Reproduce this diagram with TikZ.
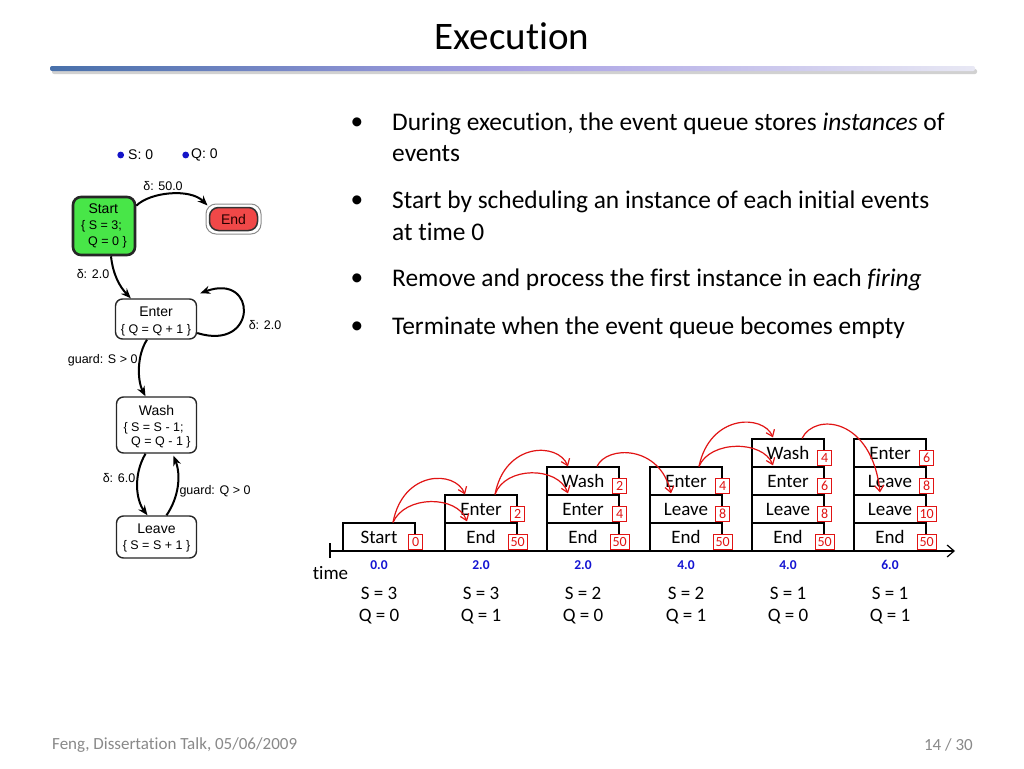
\documentclass[tikz,border=0pt]{standalone}
\usepackage{fontspec}
\setmainfont{Carlito}[Ligatures=NoCommon]
\newfontfamily\arialf{Liberation Sans}
\usetikzlibrary{arrows.meta,calc}
\definecolor{startgreen}{RGB}{72,230,72}
\definecolor{endred}{RGB}{240,72,72}
\definecolor{legblue}{RGB}{20,20,200}
\definecolor{qred}{RGB}{225,20,20}
\definecolor{tblue}{RGB}{20,20,210}
\definecolor{footgray}{RGB}{137,137,137}
\definecolor{barA}{RGB}{72,112,170}
\definecolor{barB}{RGB}{168,160,228}
\definecolor{barC}{RGB}{232,232,244}
\newcommand{\myfs}[1]{\fontsize{#1}{#1}\selectfont}
\newcommand{\qcellbox}[5]{%
  \node[qcell] (#1) at ({#2+36},{537-28*#3}) {#4};
  \node[qtag] (#1t) at ($(#1.east)+(0,4.5)$) {#5};
}
\begin{document}
\begin{tikzpicture}[x=1pt,y=-1pt,
  gbox/.style={draw=black!85,line width=1.4pt,rounded corners=7pt,fill=white,inner sep=0pt},
  gname/.style={font=\arialf\myfs{14},inner sep=0pt},
  gtxt/.style={font=\arialf\myfs{12.5},inner sep=0pt},
  glab/.style={font=\arialf\myfs{12.5},inner sep=0pt},
  garrow/.style={draw=black,line width=2pt,-{Stealth[length=10pt,width=8pt]}},
  qcell/.style={draw=black,line width=1.2pt,minimum width=72pt,minimum height=28pt,inner sep=0pt,font=\myfs{19}},
  qtag/.style={draw=qred,fill=white,text=qred,font=\myfs{14},inner xsep=2.5pt,inner ysep=0pt,minimum height=15pt,minimum width=14pt,line width=0.8pt},
  qarrow/.style={draw=qred,line width=1.2pt,-{Straight Barb[length=6pt,width=9pt]}},
  btxt/.style={font=\myfs{25.4},inner sep=0pt,anchor=west},
  bdot/.style={font=\myfs{25.4},inner sep=0pt},
  tlab/.style={font=\bfseries\myfs{13.5},text=tblue,inner sep=0pt},
  vlab/.style={font=\myfs{19},inner sep=0pt}
]
\useasboundingbox (0,0) rectangle (1024,768);
\fill[white] (0,0) rectangle (1024,768);

% ---- title ----
\node[font=\myfs{39},inner sep=0pt] (title) at (512,36) {Execution};
\fill[black!18,rounded corners=2pt] (52,69) rectangle (977,74);
\shade[left color=barA,right color=barC,middle color=barB,rounded corners=2pt] (50,66) rectangle (975,71);

% ---- bullets ----
\node[bdot] (d1) at (357,124) {•};
\node[btxt] (b1a) at (392,124) {During execution, the event queue stores \textit{instances} of};
\node[btxt] (b1b) at (392,154) {events};
\node[bdot] (d2) at (357,202) {•};
\node[btxt] (b2a) at (392,202) {Start by scheduling an instance of each initial events};
\node[btxt] (b2b) at (392,232) {at time 0};
\node[bdot] (d3) at (357,280) {•};
\node[btxt] (b3a) at (392,280) {Remove and process the first instance in each \textit{firing}};
\node[bdot] (d4) at (357,328) {•};
\node[btxt] (b4a) at (392,328) {Terminate when the event queue becomes empty};

% ---- footer ----
\node[font=\myfs{17},text=footgray,inner sep=0pt,anchor=west] (foot) at (52,745) {Feng, Dissertation Talk, 05/06/2009};
\node[font=\myfs{17},text=footgray,inner sep=0pt,anchor=east] (page) at (973,745) {14 / 30};

% ---- left state graph ----
\fill[legblue] (120.7,155) circle (3.4pt);
\node[font=\arialf\myfs{14},inner sep=0pt,anchor=west] (legS) at (128,155) {S: 0};
\fill[legblue] (185.7,155) circle (3.4pt);
\node[font=\arialf\myfs{14},inner sep=0pt,anchor=west] (legQ) at (191,155) {Q: 0};

\node[gbox,fill=startgreen,line width=2.6pt,rounded corners=8pt,minimum width=62pt,minimum height=58pt] (start) at (104,226) {};
\node[gname] (startT) at (103.3,208.5) {Start};
\node[gtxt,anchor=west] (startA) at (81,226) {\{ S = 3;};
\node[gtxt,anchor=west] (startB) at (88,242.5) {Q = 0 \}};

\node[draw=black!45,line width=1pt,fill=white,rounded corners=10pt,minimum width=55pt,minimum height=30pt,inner sep=0pt] (endo) at (233.5,219) {};
\node[draw=black!80,line width=1.5pt,fill=endred,rounded corners=9pt,minimum width=48pt,minimum height=23pt,inner sep=0pt,font=\arialf\myfs{14},text=black!85!red] (endn) at (233.5,219) {End};

\node[gbox,minimum width=81pt,minimum height=40pt] (enter) at (156,319) {};
\node[gname] (enterT) at (156,311.5) {Enter};
\node[gtxt] (enterA) at (156,330) {\{ Q = Q + 1 \}};

\node[gbox,minimum width=80pt,minimum height=56pt] (wash) at (156.5,425) {};
\node[gname] (washT) at (156.5,410) {Wash};
\node[gtxt,anchor=west] (washA) at (123.3,428.3) {\{ S = S - 1;};
\node[gtxt,anchor=west] (washB) at (131,442.7) {Q = Q - 1 \}};

\node[gbox,minimum width=80pt,minimum height=42pt] (leave) at (156.5,537) {};
\node[gname] (leaveT) at (156.5,529) {Leave};
\node[gtxt] (leaveA) at (156.5,546.7) {\{ S = S + 1 \}};

\draw[garrow] ($(start.north east)+(0,10)$) .. controls (150,192) and (190,188) .. ($(endo.north west)+(2,2)$);
\node[glab] (l1) at (163,186) {δ: 50.0};
\draw[garrow] ($(start.south)+(7,0)$) .. controls (113,275) and (120,287) .. ($(enter.north west)+(16,0)$);
\node[glab] (l2) at (93,274) {δ: 2.0};
\draw[garrow] ($(enter.east)+(0,14)$) .. controls (258,352) and (258,272) .. ($(enter.north east)+(3,-5)$);
\node[glab] (l3) at (265,325) {δ: 2.0};
\draw[garrow] ($(enter.south)+(-9,0)$) .. controls (137,355) and (137,380) .. ($(wash.north)+(-11,0)$);
\node[glab] (l4) at (102.7,360.7) {guard: S > 0};
\draw[garrow] ($(wash.south)+(-11,0)$) .. controls (133,475) and (136,500) .. ($(leave.north)+(-9,0)$);
\node[glab] (l5) at (119,478) {δ: 6.0};
\draw[garrow] ($(leave.north)+(10,0)$) .. controls (179,497) and (181,475) .. ($(wash.south)+(17,2)$);
\node[glab] (l6) at (215,491.7) {guard: Q > 0};

% ---- event queue ----
\qcellbox{q1a}{343}{0}{Start}{0}
\qcellbox{q2a}{445}{0}{End}{50}
\qcellbox{q2b}{445}{1}{Enter}{2}
\qcellbox{q3a}{547}{0}{End}{50}
\qcellbox{q3b}{547}{1}{Enter}{4}
\qcellbox{q3c}{547}{2}{Wash}{2}
\qcellbox{q4a}{650}{0}{End}{50}
\qcellbox{q4b}{650}{1}{Leave}{8}
\qcellbox{q4c}{650}{2}{Enter}{4}
\qcellbox{q5a}{752}{0}{End}{50}
\qcellbox{q5b}{752}{1}{Leave}{8}
\qcellbox{q5c}{752}{2}{Enter}{6}
\qcellbox{q5d}{752}{3}{Wash}{4}
\qcellbox{q6a}{854}{0}{End}{50}
\qcellbox{q6b}{854}{1}{Leave}{10}
\qcellbox{q6c}{854}{2}{Leave}{8}
\qcellbox{q6d}{854}{3}{Enter}{6}

\coordinate (ax0) at (330,551);
\coordinate (ax1) at (955,551);
\coordinate (tk0) at (330,543);
\coordinate (tk1) at (330,558);
\draw[line width=1.2pt,-{Straight Barb[length=7pt,width=12pt]}] (ax0) -- (ax1);
\draw[line width=1.2pt] (tk0) -- (tk1);
\node[vlab] (time) at (330.5,573) {time};

\draw[qarrow] ($(q1a.north)+(14,0)$) .. controls (403,470) and (455,470) .. ($(q2b.north)+(-16,0)$);
\draw[qarrow] ($(q1a.north)+(14,0)$) .. controls (405,495) and (457,495) .. ($(q2a.north)+(-14,-1)$);
\draw[qarrow] ($(q2b.north)+(14,0)$) .. controls (505,442) and (558,442) .. ($(q3c.north)+(-15,0)$);
\draw[qarrow] ($(q2b.north)+(14,0)$) .. controls (505,466) and (558,466) .. ($(q3b.north)+(-15,-1)$);
\draw[qarrow] ($(q3c.north)+(14,0)$) .. controls (607,445) and (660,445) .. ($(q4b.north)+(-15,-1)$);
\draw[qarrow] ($(q4c.north)+(13,0)$) .. controls (710,414) and (763,414) .. ($(q5d.north)+(-15,-1)$);
\draw[qarrow] ($(q4c.north)+(13,0)$) .. controls (710,440) and (763,440) .. ($(q5c.north)+(-15,-1)$);
\draw[qarrow] ($(q5d.north)+(14,0)$) .. controls (815,412) and (872,418) .. ($(q6b.north)+(-10,-2)$);

\node[tlab] (t1) at (379,565) {0.0};
\node[tlab] (t2) at (481,565) {2.0};
\node[tlab] (t3) at (583,565) {2.0};
\node[tlab] (t4) at (686,565) {4.0};
\node[tlab] (t5) at (788,565) {4.0};
\node[tlab] (t6) at (890,565) {6.0};

\node[vlab] (s1) at (379,593) {S = 3};
\node[vlab] (s2) at (481,593) {S = 3};
\node[vlab] (s3) at (583,593) {S = 2};
\node[vlab] (s4) at (686,593) {S = 2};
\node[vlab] (s5) at (788,593) {S = 1};
\node[vlab] (s6) at (890,593) {S = 1};
\node[vlab] (v1) at (379,616.5) {Q = 0};
\node[vlab] (v2) at (481,616.5) {Q = 1};
\node[vlab] (v3) at (583,616.5) {Q = 0};
\node[vlab] (v4) at (686,616.5) {Q = 1};
\node[vlab] (v5) at (788,616.5) {Q = 0};
\node[vlab] (v6) at (890,616.5) {Q = 1};
\end{tikzpicture}
\end{document}
